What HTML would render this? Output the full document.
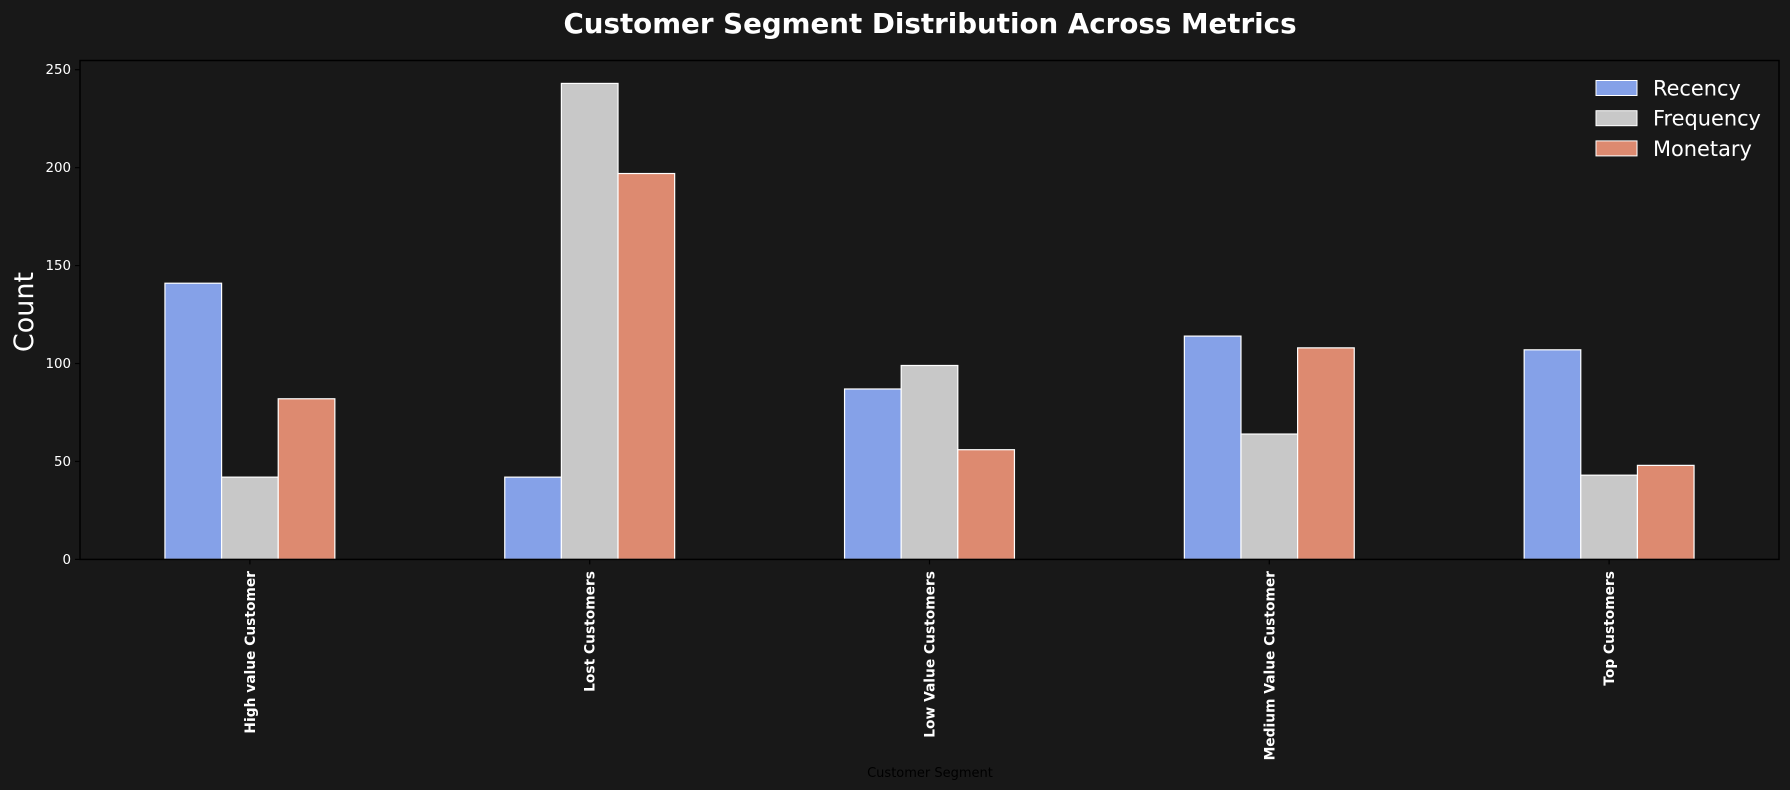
<!DOCTYPE html>
<html><head><meta charset="utf-8"><style>
body{margin:0;background:#181818;}
svg{display:block;font-family:"DejaVu Sans","Liberation Sans",sans-serif;}
</style></head><body>
<svg id="chart" width="1790" height="790" viewBox="0 0 1790 790">
<rect width="1790" height="790" fill="#181818"/>
<text x="930" y="33" text-anchor="middle" fill="#fff" font-size="27.7" font-weight="bold">Customer Segment Distribution Across Metrics</text>
<text transform="translate(33,312) rotate(-90)" text-anchor="middle" fill="#fff" font-size="27">Count</text>
<text x="930" y="777" text-anchor="middle" fill="#000" font-size="13">Customer Segment</text>
<g id="bars"></g>
<g id="axes"></g>
<g id="legend"></g>
</svg>
<script>
const categories=["High value Customer","Lost Customers","Low Value Customers","Medium Value Customer","Top Customers"];
const recency=[141,42,87,114,107];
const frequency=[42,243,99,64,43];
const monetary=[82,197,56,108,48];
const seriesNames=["Recency","Frequency","Monetary"];
const yTicks=[0,50,100,150,200,250];
const colors=["#85a1e8","#c8c8c8","#dd8a70"];
const NS="http://www.w3.org/2000/svg";
const L=80,R=1779,T=60.5,B=559.4,YMAX=254.7;
const y=v=>B-(v/YMAX)*(B-T);
const slot=(R-L)/categories.length;
const xc=i=>L+slot*(i+0.5);
const bw=slot*0.5/3;
function mk(tag,attrs,parent){const e=document.createElementNS(NS,tag);for(const k in attrs)e.setAttribute(k,attrs[k]);parent.appendChild(e);return e;}
const bars=document.getElementById('bars'),axes=document.getElementById('axes'),leg=document.getElementById('legend');
const series=[recency,frequency,monetary];
series.forEach((s,si)=>{s.forEach((v,i)=>{
 const r=mk('rect',{x:xc(i)+(si-1.5)*bw,y:y(v),width:bw,height:B-y(v),fill:colors[si],stroke:"#fff","stroke-width":1.2},bars);
 
 
});});
const frame=mk('rect',{x:L,y:T,width:R-L,height:B-T,fill:"none",stroke:"#000","stroke-width":1.5},axes);


yTicks.forEach(t=>{
 const ln=mk('line',{x1:L-5,x2:L,y1:y(t),y2:y(t),stroke:"#000","stroke-width":1.2},axes);
 
 
 const tx=mk('text',{x:L-9,y:y(t)+4.5,"text-anchor":"end",fill:"#fff","font-size":13.4},axes);
 tx.textContent=t;
 
 
});
categories.forEach((c,i)=>{
 const ln=mk('line',{x1:xc(i),x2:xc(i),y1:B,y2:B+5,stroke:"#000","stroke-width":1.2},axes);
 
 
 const tx=mk('text',{transform:`translate(${xc(i)+5},571) rotate(-90)`,"text-anchor":"end",fill:"#fff","font-size":13.8,"font-weight":"bold"},axes);
 tx.textContent=c;
 
 
});
seriesNames.forEach((n,i)=>{
 const cy=88+i*30.2;
 const r=mk('rect',{x:1596,y:cy-7.5,width:41,height:15,fill:colors[i],stroke:"#fff","stroke-width":1},leg);
 
 
 const t=mk('text',{x:1653,y:cy+7.5,fill:"#fff","font-size":20.9},leg);
 t.textContent=n;
 
 
});
</script>
</body></html>
